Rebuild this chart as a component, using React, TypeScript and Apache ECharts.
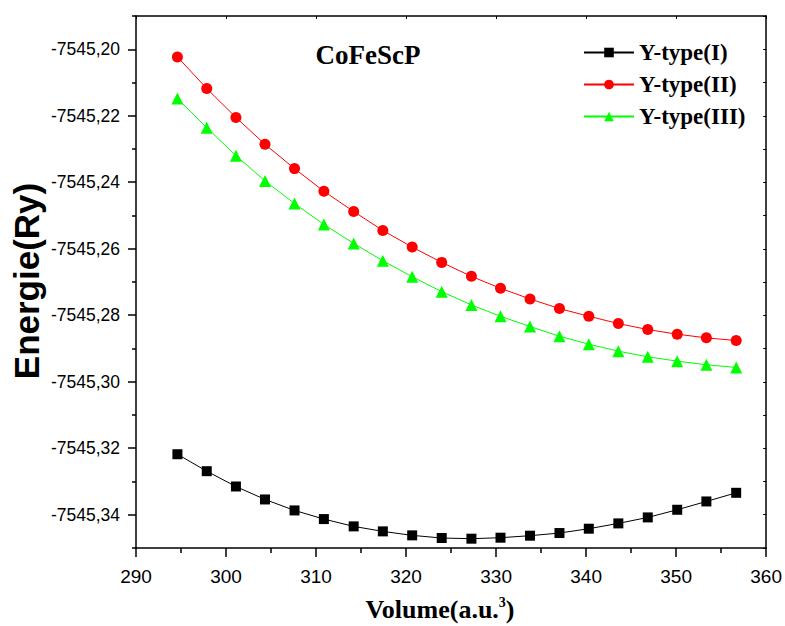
import React, { useEffect, useRef } from "react";
import * as echarts from "echarts";

const volumes = [294.6, 297.86, 301.1, 304.33, 307.61, 310.87, 314.18, 317.42, 320.68, 323.96, 327.26, 330.49, 333.77, 337.04, 340.3, 343.58, 346.85, 350.12, 353.36, 356.67];
const typeI = [-7545.3218, -7545.3269, -7545.3315, -7545.3354, -7545.3387, -7545.3413, -7545.3435, -7545.345, -7545.3462, -7545.347, -7545.3472, -7545.3469, -7545.3463, -7545.3455, -7545.3442, -7545.3426, -7545.3408, -7545.3385, -7545.336, -7545.3334];
const typeII = [-7545.2023, -7545.2118, -7545.2205, -7545.2286, -7545.2359, -7545.2427, -7545.2488, -7545.2545, -7545.2595, -7545.2641, -7545.2683, -7545.2719, -7545.2751, -7545.278, -7545.2803, -7545.2825, -7545.2843, -7545.2857, -7545.2868, -7545.2876];
const typeIII = [-7545.2148, -7545.2236, -7545.232, -7545.2396, -7545.2464, -7545.2527, -7545.2584, -7545.2636, -7545.2684, -7545.2729, -7545.2769, -7545.2803, -7545.2834, -7545.2863, -7545.2887, -7545.2908, -7545.2925, -7545.2938, -7545.2949, -7545.2957];
const yMajorTicks = [-7545.34, -7545.32, -7545.3, -7545.28, -7545.26, -7545.24, -7545.22, -7545.2];
const yMinorTicks = [-7545.35, -7545.33, -7545.31, -7545.29, -7545.27, -7545.25, -7545.23, -7545.21, -7545.19];
const seriesNames = ["Y-type(I)", "Y-type(II)", "Y-type(III)"];
const chartTitle = "CoFeScP";

const Y_MIN = -7545.35;
const Y_MAX = -7545.19;

export default function App() {
  const ref = useRef<HTMLDivElement>(null);
  useEffect(() => {
    document.body.style.margin = "0";
    if (!ref.current) return;
    const chart = echarts.init(ref.current, null, { renderer: "svg" });
    const pair = (ys: number[]) => volumes.map((v, i) => [v, ys[i]]);
    const sans = "'Liberation Sans', Arial, sans-serif";
    const serif = "'Liberation Serif', 'Times New Roman', serif";
    const allY = [...yMajorTicks, ...yMinorTicks].sort((a, b) => a - b);
    chart.setOption({
      animation: false,
      backgroundColor: "#fff",
      grid: { left: 136, right: 14, top: 16, bottom: 78, containLabel: false },
      legend: {
        orient: "vertical",
        left: 583,
        top: 40,
        padding: 0,
        itemWidth: 50,
        itemHeight: 12,
        itemGap: 7,
        data: seriesNames,
        textStyle: { fontFamily: serif, fontWeight: "bold", fontSize: 23, lineHeight: 25, color: "#000" },
      },
      xAxis: [
        {
          type: "value",
          position: "bottom",
          min: 290,
          max: 360,
          interval: 10,
          axisLine: { show: true, lineStyle: { color: "#000", width: 1.5 } },
          axisTick: { show: true, inside: false, length: 9, lineStyle: { color: "#000", width: 1.5 } },
          minorTick: { show: true, splitNumber: 2, length: 5, lineStyle: { color: "#000", width: 1.5 } },
          axisLabel: { fontFamily: sans, fontSize: 19, color: "#000", margin: 19 },
          splitLine: { show: false },
          minorSplitLine: { show: false },
        },
        {
          type: "value",
          position: "top",
          min: 290,
          max: 360,
          interval: 10,
          axisLine: { show: true, onZero: false, lineStyle: { color: "#000", width: 1.5 } },
          axisTick: { show: true, inside: true, length: 3, lineStyle: { color: "#000", width: 1 } },
          axisLabel: { show: false },
          splitLine: { show: false },
        },
      ],
      yAxis: [
        {
          type: "value",
          position: "left",
          min: Y_MIN,
          max: Y_MAX,
          axisLine: { show: true, onZero: false, lineStyle: { color: "#000", width: 1.5 } },
          axisTick: { show: true, inside: false, length: 8, customValues: yMajorTicks, lineStyle: { color: "#000", width: 1.5 } },
          axisLabel: {
            customValues: yMajorTicks,
            fontFamily: sans,
            fontSize: 17.5,
            color: "#000",
            margin: 16,
            formatter: (v: number) => v.toFixed(2).replace(".", ","),
          },
          splitLine: { show: false },
        },
        {
          type: "value",
          position: "left",
          min: Y_MIN,
          max: Y_MAX,
          axisLine: { show: false, onZero: false },
          axisTick: { show: true, inside: false, length: 4, customValues: yMinorTicks, lineStyle: { color: "#000", width: 1.5 } },
          axisLabel: { show: false },
          splitLine: { show: false },
        },
        {
          type: "value",
          position: "right",
          min: Y_MIN,
          max: Y_MAX,
          axisLine: { show: true, onZero: false, lineStyle: { color: "#000", width: 1.5 } },
          axisTick: { show: true, inside: true, length: 3, customValues: allY, lineStyle: { color: "#000", width: 1 } },
          axisLabel: { show: false },
          splitLine: { show: false },
        },
      ],
      series: [
        {
          name: seriesNames[0],
          type: "line",
          data: pair(typeI),
          symbol: "rect",
          symbolSize: 10,
          lineStyle: { color: "#000", width: 1 },
          itemStyle: { color: "#000" },
        },
        {
          name: seriesNames[1],
          type: "line",
          data: pair(typeII),
          symbol: "circle",
          symbolSize: 11,
          lineStyle: { color: "#ff0000", width: 1 },
          itemStyle: { color: "#ff0000" },
        },
        {
          name: seriesNames[2],
          type: "line",
          data: pair(typeIII),
          symbol: "triangle",
          symbolSize: 12,
          lineStyle: { color: "#00ff00", width: 1 },
          itemStyle: { color: "#00ff00" },
        },
      ],
      graphic: [
        {
          type: "text",
          x: 368,
          y: 55,
          style: {
            text: chartTitle,
            fontFamily: serif,
            fontWeight: "bold",
            fontSize: 27,
            fill: "#000",
            textAlign: "center",
            textVerticalAlign: "middle",
          },
        },
        {
          type: "text",
          x: 440,
          y: 609,
          style: {
            text: "{a|Volume(a.u.}{s|3}{a|)}",
            textAlign: "center",
            textVerticalAlign: "middle",
            rich: {
              a: { fontFamily: serif, fontWeight: "bold", fontSize: 26, fill: "#000" },
              s: { fontFamily: serif, fontWeight: "bold", fontSize: 14, fill: "#000", verticalAlign: "top", padding: [0, 0, 13, 0] },
            },
          },
        },
        {
          type: "text",
          x: 26,
          y: 281,
          rotation: Math.PI / 2,
          style: {
            text: "Energie(Ry)",
            fontFamily: sans,
            fontWeight: "bold",
            fontSize: 35,
            fill: "#000",
            textAlign: "center",
            textVerticalAlign: "middle",
          },
        },
      ],
    });
    return () => chart.dispose();
  }, []);
  return <div ref={ref} style={{ width: 785, height: 626 }} />;
}
